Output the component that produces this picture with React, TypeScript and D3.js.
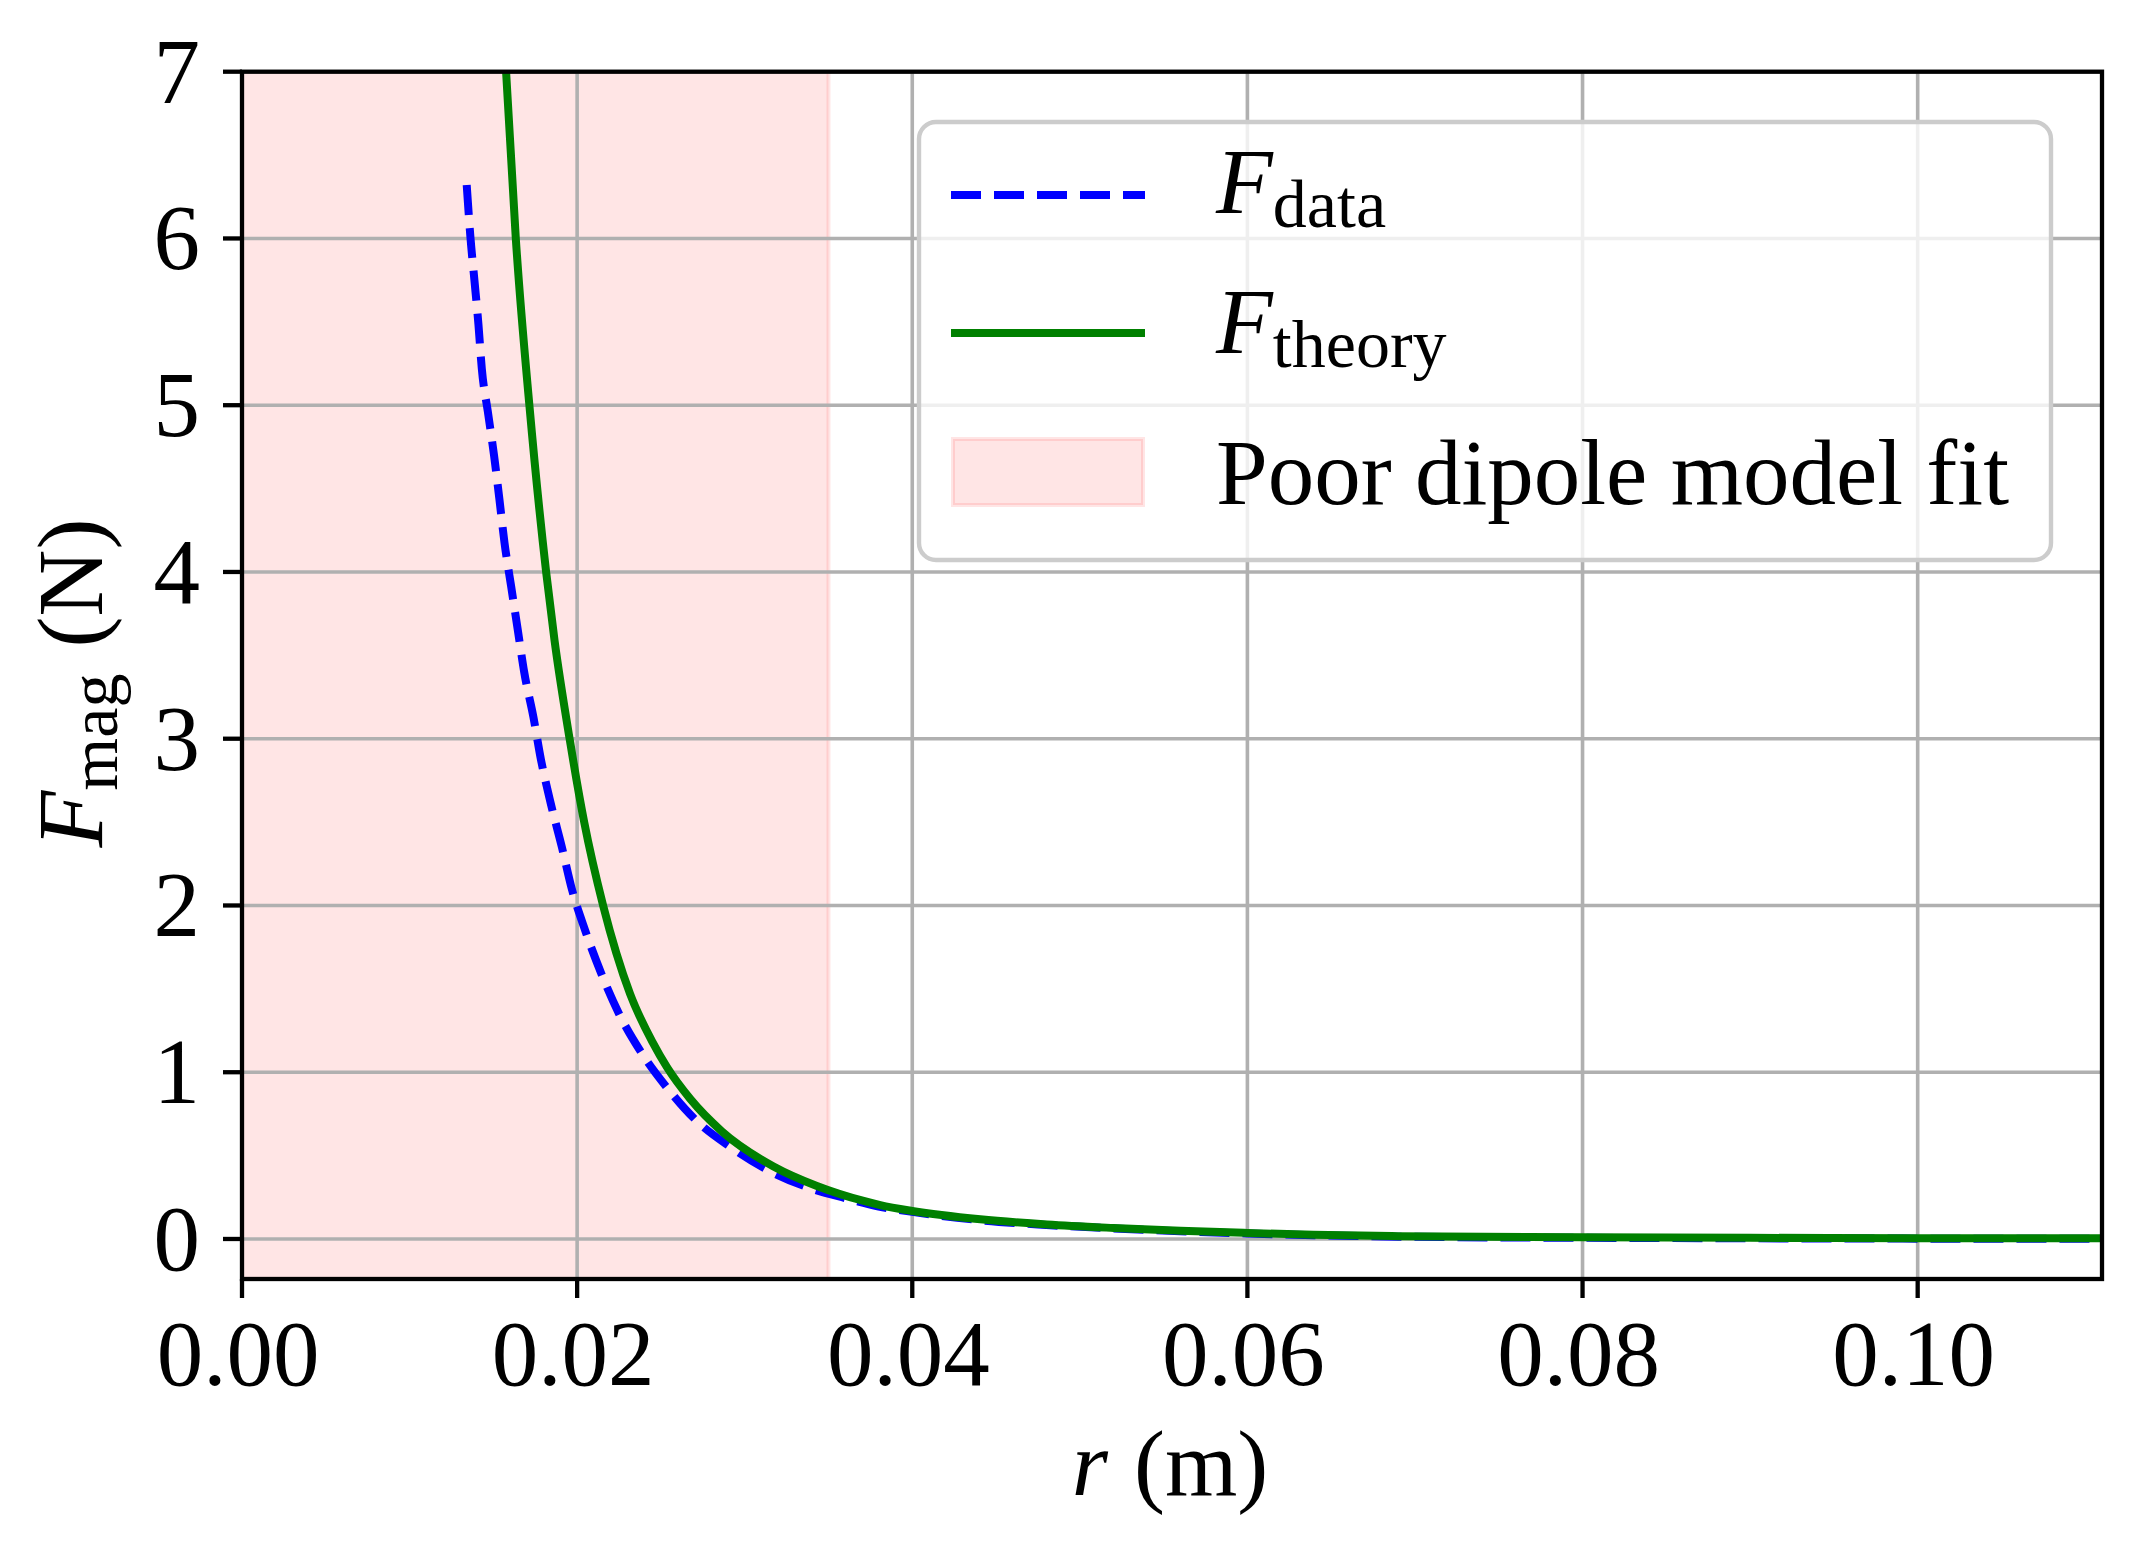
import React, { useEffect } from "react";
import * as d3 from "d3";

// ---- data ----
const rData = [0.01341, 0.01363, 0.01387, 0.01411, 0.01431, 0.01467, 0.01504, 0.01536, 0.01566, 0.01606, 0.01646, 0.01684, 0.01739, 0.01785, 0.01843, 0.01909, 0.01968, 0.02048, 0.02141, 0.02247, 0.0238, 0.02535, 0.02708, 0.02913, 0.03136, 0.03381, 0.036, 0.038, 0.04, 0.044, 0.048, 0.052, 0.056, 0.06, 0.064, 0.069, 0.08, 0.09, 0.1, 0.111];
const fData = [6.32, 6.01, 5.75, 5.485, 5.22, 4.962, 4.7, 4.437, 4.179, 3.915, 3.651, 3.4, 3.13, 2.87, 2.61, 2.35, 2.1, 1.85, 1.6, 1.357, 1.123, 0.909, 0.713, 0.553, 0.414, 0.308, 0.245, 0.195, 0.163, 0.113, 0.084, 0.063, 0.046, 0.033, 0.022, 0.014, 0.007, 0.004, 0.002, 0.001];

const rTheory = [0.01576, 0.01634, 0.01715, 0.01815, 0.01865, 0.01955, 0.02042, 0.02155, 0.02316, 0.0245, 0.02536, 0.02675, 0.02864, 0.03172, 0.03431, 0.0371, 0.03809, 0.04, 0.04406, 0.04804, 0.05202, 0.056, 0.06, 0.06393, 0.06901, 0.08, 0.09, 0.1, 0.111];
const fTheory = [7.0, 6.0, 5.0, 4.0, 3.59, 3.0, 2.5, 2.0, 1.47, 1.18, 1.03, 0.84, 0.645, 0.435, 0.318, 0.228, 0.203, 0.168, 0.118, 0.087, 0.066, 0.049, 0.036, 0.025, 0.017, 0.01, 0.007, 0.005, 0.004];

const spanRange = [0, 0.035];
const xDomain = [0, 0.111];
const yDomain = [-0.24, 7];
const xTicks = [0, 0.02, 0.04, 0.06, 0.08, 0.1];
const yTicks = [0, 1, 2, 3, 4, 5, 6, 7];
const legendNames = ["data", "theory", "Poor dipole model fit"];

// ---- layout ----
const W = 2141;
const H = 1559;
const L = 242;
const R = 2102;
const T = 71.7;
const B = 1279;
const FONT = "'Liberation Serif', 'DejaVu Serif', serif";
const FS = 93;
const SUB = 68;

export default function App() {
  useEffect(() => {
    document.body.style.margin = "0";
  }, []);

  const x = d3.scaleLinear().domain(xDomain).range([L, R]);
  const y = d3.scaleLinear().domain(yDomain).range([B, T]);

  const dataPts: [number, number][] = rData.map((r, i) => [r, fData[i]]);
  const theoryPts: [number, number][] = rTheory.map((r, i) => [r, fTheory[i]]);

  const lineData = d3
    .line<[number, number]>()
    .x((d) => x(d[0]))
    .y((d) => y(d[1]))
    .curve(d3.curveMonotoneX);
  const lineTheory = d3
    .line<[number, number]>()
    .x((d) => x(d[0]))
    .y((d) => y(d[1]))
    .curve(d3.curveMonotoneX);

  const fmtX = d3.format(".2f");
  const spanFill = "rgba(255,0,0,0.1)";

  // legend geometry
  const lgX = 919;
  const lgY = 122;
  const lgW = 1132;
  const lgH = 438;
  const hx0 = 951;
  const hx1 = 1145;
  const tx = 1216;

  return (
    <svg width={W} height={H} style={{ display: "block", background: "#fff" }} fontFamily={FONT}>
      <defs>
        <clipPath id="plotclip">
          <rect x={L} y={T} width={R - L} height={B - T} />
        </clipPath>
      </defs>
      <rect x={0} y={0} width={W} height={H} fill="#fff" />

      {/* shaded region */}
      <rect
        x={x(spanRange[0])}
        y={T}
        width={x(spanRange[1]) - x(spanRange[0])}
        height={B - T}
        fill={spanFill}
        stroke={spanFill}
        strokeWidth={4}
        clipPath="url(#plotclip)"
      />

      {/* grid */}
      <g stroke="#b0b0b0" strokeWidth={3.6}>
        {xTicks.map((t) => (
          <line key={"gx" + t} x1={x(t)} x2={x(t)} y1={T} y2={B} />
        ))}
        {yTicks.map((t) => (
          <line key={"gy" + t} x1={L} x2={R} y1={y(t)} y2={y(t)} />
        ))}
      </g>

      {/* curves */}
      <g clipPath="url(#plotclip)" fill="none">
        <path d={lineData(dataPts) || ""} stroke="#0000ff" strokeWidth={8} strokeDasharray="30 13" />
        <path d={lineTheory(theoryPts) || ""} stroke="#008000" strokeWidth={8} />
      </g>

      {/* spines */}
      <rect x={L} y={T} width={R - L} height={B - T} fill="none" stroke="#000" strokeWidth={4.3} />

      {/* x ticks */}
      <g>
        {xTicks.map((t) => (
          <g key={"xt" + t}>
            <line x1={x(t)} x2={x(t)} y1={B} y2={B + 19} stroke="#000" strokeWidth={4.3} />
            <text x={x(t) - 4} y={1385} textAnchor="middle" fontSize={FS} fill="#000">
              {fmtX(t)}
            </text>
          </g>
        ))}
      </g>

      {/* y ticks */}
      <g>
        {yTicks.map((t) => (
          <g key={"yt" + t}>
            <line x1={L - 19} x2={L} y1={y(t)} y2={y(t)} stroke="#000" strokeWidth={4.3} />
            <text x={200} y={y(t) + 31} textAnchor="end" fontSize={FS} fill="#000">
              {String(t)}
            </text>
          </g>
        ))}
      </g>

      {/* axis labels */}
      <text x={1170} y={1495} textAnchor="middle" fontSize={FS} fill="#000">
        <tspan fontStyle="italic">r</tspan>
        <tspan dx={26}>(m)</tspan>
      </text>
      <text
        transform={`translate(102,683) rotate(-90)`}
        textAnchor="middle"
        fontSize={FS}
        fill="#000"
      >
        <tspan fontStyle="italic">F</tspan>
        <tspan fontSize={SUB} dy={15}>mag</tspan>
        <tspan dy={-15} dx={26}>(N)</tspan>
      </text>

      {/* legend */}
      <g>
        <rect
          x={lgX}
          y={lgY}
          width={lgW}
          height={lgH}
          rx={17}
          ry={17}
          fill="rgba(255,255,255,0.8)"
          stroke="#cccccc"
          strokeWidth={4.4}
        />
        <line x1={hx0} x2={hx1} y1={195} y2={195} stroke="#0000ff" strokeWidth={8} strokeDasharray="30 13" />
        <text x={tx} y={213} fontSize={FS} fill="#000">
          <tspan fontStyle="italic">F</tspan>
          <tspan fontSize={SUB} dy={14}>{legendNames[0]}</tspan>
        </text>
        <line x1={hx0} x2={hx1} y1={333} y2={333} stroke="#008000" strokeWidth={8} />
        <text x={tx} y={353} fontSize={FS} fill="#000">
          <tspan fontStyle="italic">F</tspan>
          <tspan fontSize={SUB} dy={14}>{legendNames[1]}</tspan>
        </text>
        <rect x={hx0 + 2} y={439} width={hx1 - hx0 - 4} height={66} fill={spanFill} stroke={spanFill} strokeWidth={4} />
        <text x={tx} y={504} fontSize={FS} fill="#000">
          {legendNames[2]}
        </text>
      </g>
    </svg>
  );
}
